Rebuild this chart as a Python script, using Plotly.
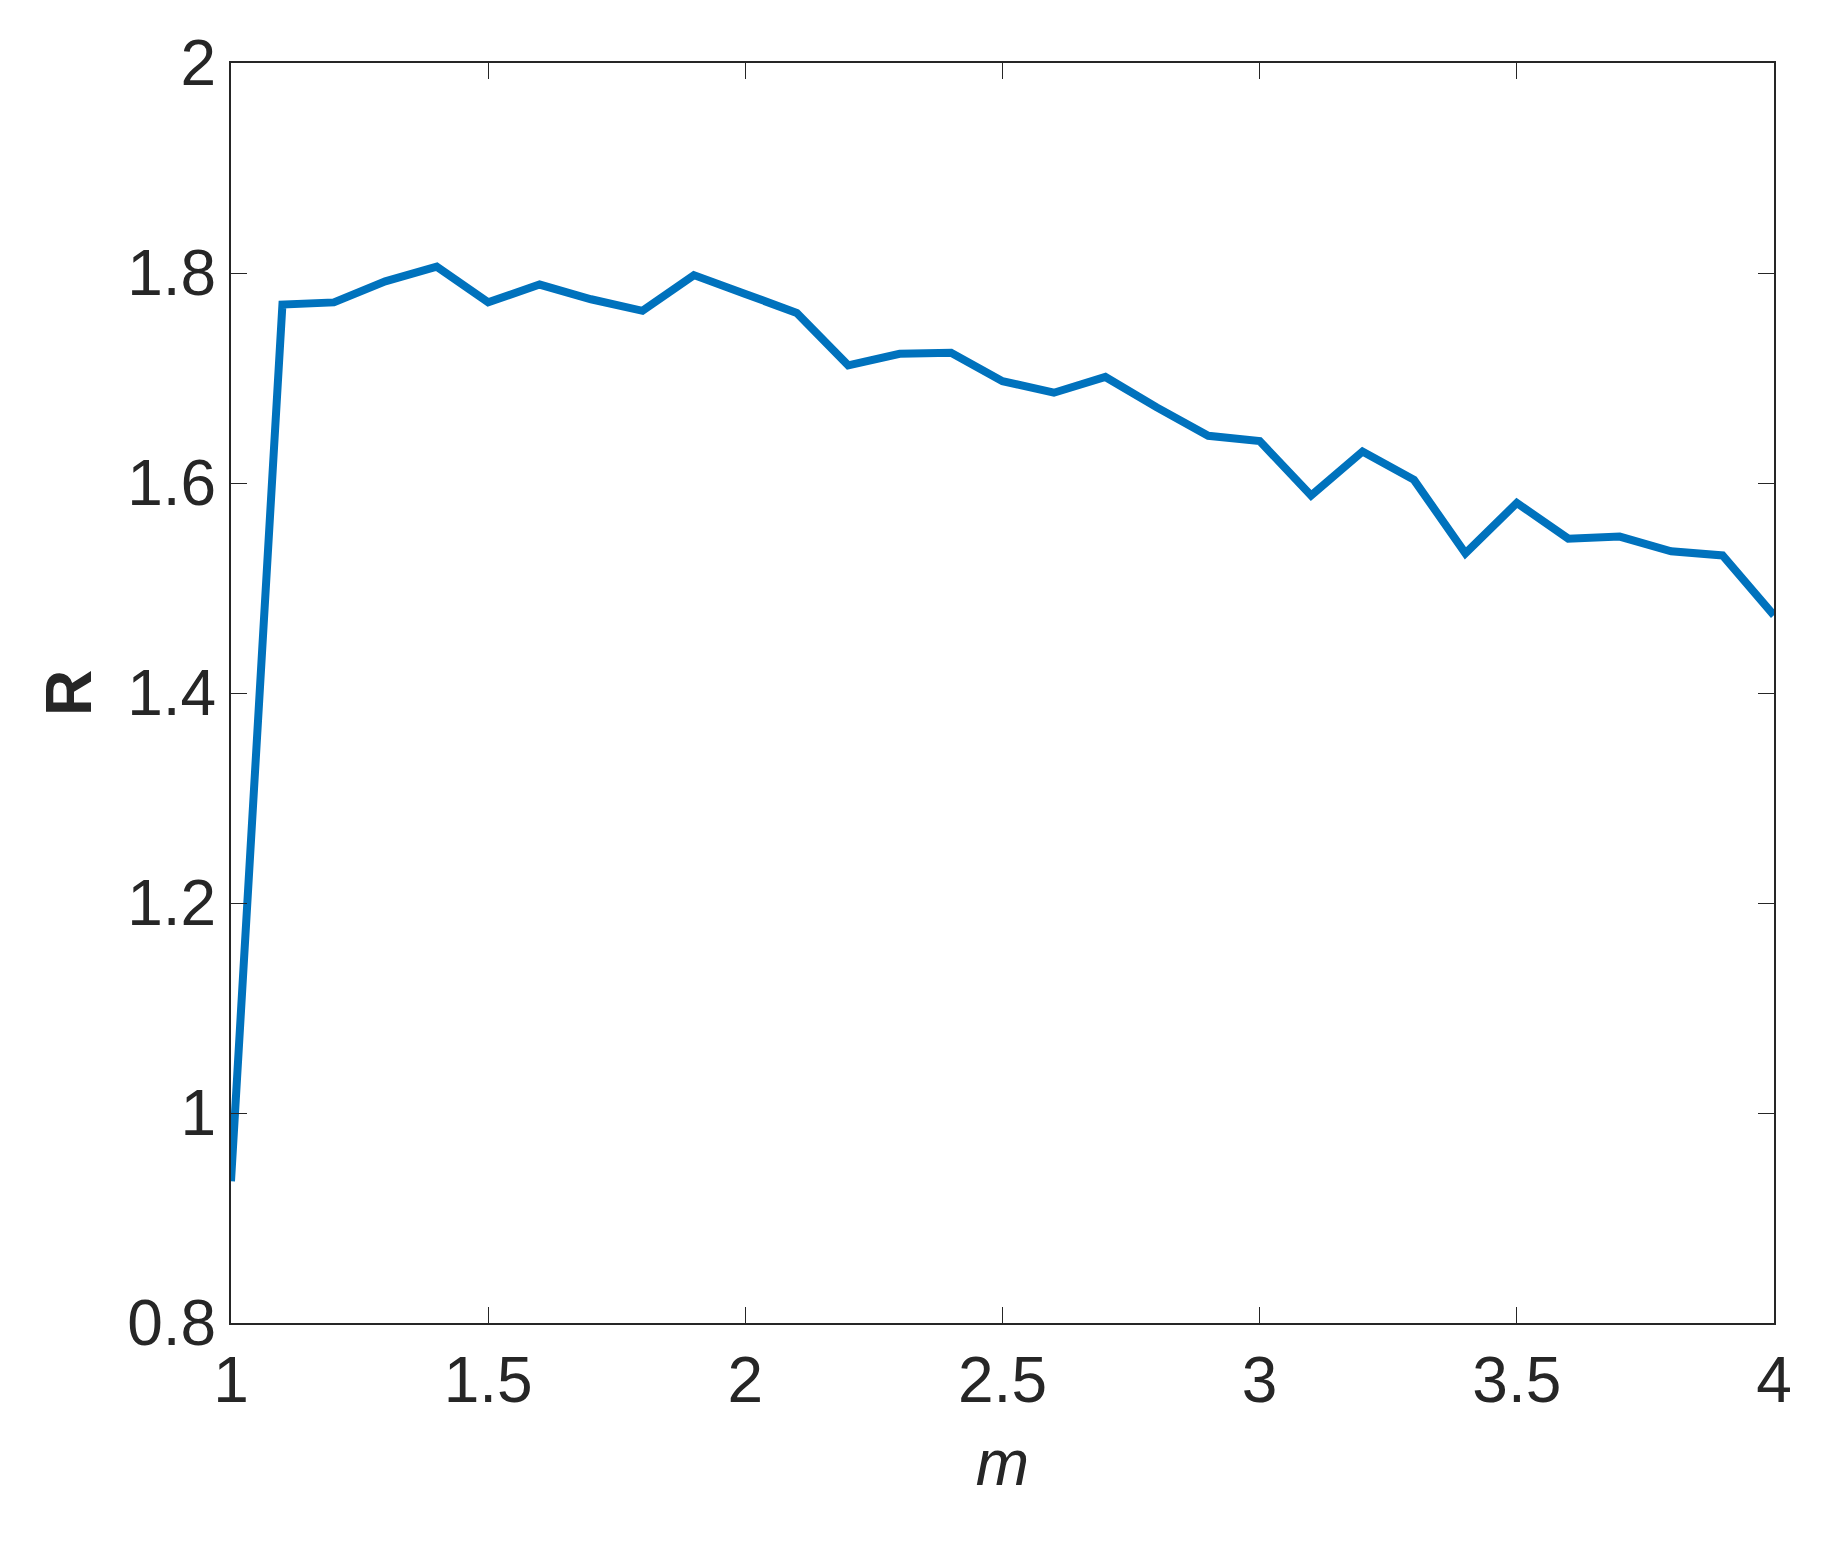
import plotly.graph_objects as go

m = [1.0,1.1,1.2,1.3,1.4,1.5,1.6,1.7,1.8,1.9,2.0,2.1,2.2,2.3,2.4,2.5,2.6,2.7,2.8,2.9,3.0,3.1,3.2,3.3,3.4,3.5,3.6,3.7,3.8,3.9,4.0]
R = [0.935,1.77,1.772,1.792,1.806,1.772,1.789,1.775,1.764,1.798,1.78,1.762,1.712,1.723,1.724,1.697,1.686,1.701,1.672,1.645,1.640,1.588,1.630,1.603,1.533,1.581,1.547,1.549,1.535,1.531,1.474]
xticks = [1,1.5,2,2.5,3,3.5,4]
xlabels = ["1","1.5","2","2.5","3","3.5","4"]
yticks = [0.8,1,1.2,1.4,1.6,1.8,2]
ylabels = ["0.8","1","1.2","1.4","1.6","1.8","2"]

fig = go.Figure(go.Scatter(x=m, y=R, mode="lines", line=dict(color="#0072BD", width=8)))
ax = dict(showgrid=False, zeroline=False, showline=True, linecolor="#262626", linewidth=2,
          mirror="ticks", ticks="inside", ticklen=16, tickcolor="#262626",
          tickfont=dict(family="Liberation Sans, Arial", size=64, color="#262626"))
fig.update_xaxes(**ax, range=[1,4], tickvals=xticks, ticktext=xlabels,
                 title=dict(text="<i>m</i>", font=dict(family="Liberation Sans, Arial", size=64, color="#262626"), standoff=25))
fig.update_yaxes(**ax, range=[0.8,2], tickvals=yticks, ticktext=ylabels,
                 title=dict(text="<b>R</b>", font=dict(family="Liberation Sans, Arial", size=64, color="#262626"), standoff=15))
fig.update_layout(width=1837, height=1545, plot_bgcolor="white", paper_bgcolor="white",
                  showlegend=False, margin=dict(l=223, r=71, t=55, b=230))
fig.write_html("out.html")
